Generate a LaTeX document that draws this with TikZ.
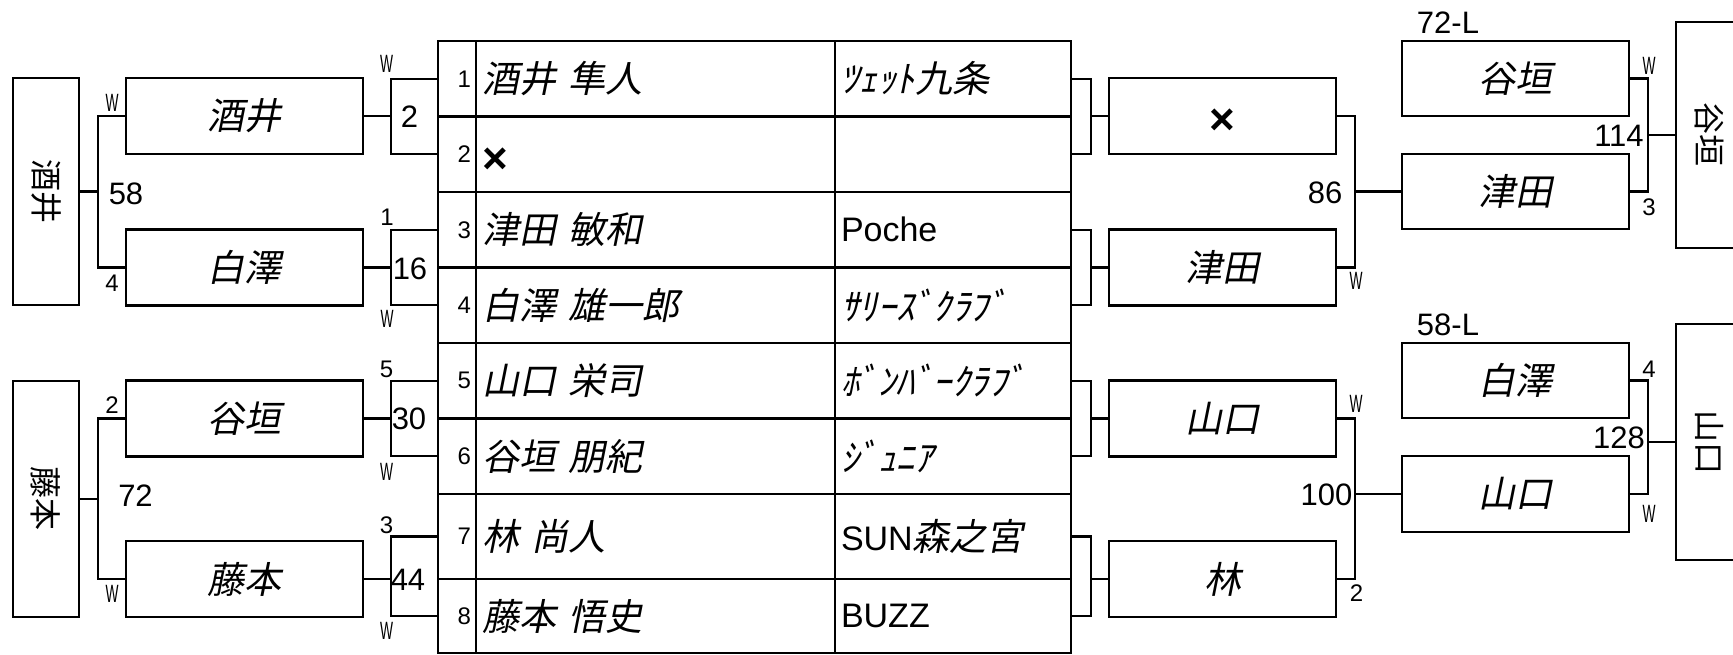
\documentclass[tikz,border=0pt]{standalone}
\usepackage{graphicx}
\usepackage{fontspec}
\setmainfont{Liberation Sans}
\newfontfamily\jpfont{Noto Sans CJK JP}
\newfontfamily\jpslant[FakeSlant=0.2]{Noto Sans CJK JP}
\newfontfamily\slimfont[FakeStretch=0.55]{Liberation Sans}
\newcommand{\latn}[1]{{\rmfamily\fontsize{34}{34}\selectfont #1}}
\newcommand{\batsu}{{\rmfamily\bfseries\fontsize{44}{44}\selectfont\raisebox{0pt}[38pt][0pt]{×}}}

\begin{document}
\begin{tikzpicture}[x=1pt,y=-1pt,line width=2.2pt,
  outbox/.style={draw,minimum width=66pt,inner sep=0pt,font=\jpfont\fontsize{32}{32}\selectfont},
  namebox/.style={draw,minimum width=237pt,minimum height=76pt,inner sep=0pt,font=\jpslant\fontsize{37}{37}\selectfont},
  rbox/.style={namebox,minimum width=227pt},
  numcell/.style={draw,minimum width=38pt,text width=28pt,align=right,inner xsep=5pt,inner ysep=0pt,font=\fontsize{24}{24}\selectfont},
  namecell/.style={draw,text width=347pt,align=left,inner xsep=6pt,inner ysep=0pt,font=\jpslant\fontsize{37}{37}\selectfont},
  clubcell/.style={draw,text width=224pt,align=left,inner xsep=6pt,inner ysep=0pt,font=\jpslant\fontsize{37}{37}\selectfont},
  wlab/.style={font=\slimfont\fontsize{25}{25}\selectfont,inner sep=0pt},
  seedlab/.style={font=\fontsize{24}{24}\selectfont,inner sep=0pt},
  score/.style={font=\fontsize{31}{31}\selectfont,inner sep=0pt}]
  \useasboundingbox (0,0) rectangle (1733,655);
  \clip (0,0) rectangle (1733,655);

  \node[numcell,minimum height=75.5pt] (n1) at (457,78.75) {1};
  \node[namecell,minimum height=75.5pt] (p1) at (655.5,78.75) {酒井 隼人};
  \node[clubcell,minimum height=75.5pt] (c1) at (953,78.75) {ﾂｪｯﾄ九条};
  \node[numcell,minimum height=75.5pt] (n2) at (457,154.25) {2};
  \node[namecell,minimum height=75.5pt] (p2) at (655.5,154.25) {\batsu};
  \node[clubcell,minimum height=75.5pt] (c2) at (953,154.25) {};
  \node[numcell,minimum height=75.5pt] (n3) at (457,229.75) {3};
  \node[namecell,minimum height=75.5pt] (p3) at (655.5,229.75) {津田 敏和};
  \node[clubcell,minimum height=75.5pt] (c3) at (953,229.75) {\latn{Poche}};
  \node[numcell,minimum height=75.5pt] (n4) at (457,305.25) {4};
  \node[namecell,minimum height=75.5pt] (p4) at (655.5,305.25) {白澤 雄一郎};
  \node[clubcell,minimum height=75.5pt] (c4) at (953,305.25) {ｻﾘｰｽﾞｸﾗﾌﾞ};
  \node[numcell,minimum height=75.5pt] (n5) at (457,380.75) {5};
  \node[namecell,minimum height=75.5pt] (p5) at (655.5,380.75) {山口 栄司};
  \node[clubcell,minimum height=75.5pt] (c5) at (953,380.75) {ﾎﾞﾝﾊﾞｰｸﾗﾌﾞ};
  \node[numcell,minimum height=75.5pt] (n6) at (457,456.25) {6};
  \node[namecell,minimum height=75.5pt] (p6) at (655.5,456.25) {谷垣 朋紀};
  \node[clubcell,minimum height=75.5pt] (c6) at (953,456.25) {ｼﾞｭﾆｱ};
  \node[numcell,minimum height=85pt] (n7) at (457,536.5) {7};
  \node[namecell,minimum height=85pt] (p7) at (655.5,536.5) {林 尚人};
  \node[clubcell,minimum height=85pt] (c7) at (953,536.5) {\latn{SUN}森之宮};
  \node[numcell,minimum height=74pt] (n8) at (457,616) {8};
  \node[namecell,minimum height=74pt] (p8) at (655.5,616) {藤本 悟史};
  \node[clubcell,minimum height=74pt] (c8) at (953,616) {\latn{BUZZ}};

  \node[outbox,minimum height=227pt] (sakaiF) at (46,191.6) {\rotatebox{-90}{酒井}};
  \node[outbox,minimum height=236pt] (fujiF) at (46,498.7) {\rotatebox{-90}{藤本}};
  \node[outbox,minimum height=226pt] (tanigF) at (1709,134.9) {\rotatebox{-90}{谷垣}};
  \node[outbox,minimum height=236pt] (yamaF) at (1709,442) {\rotatebox{-90}{山口}};

  \node[namebox] (sakai) at (244.5,116) {酒井};
  \node[namebox] (shira) at (244.5,267.5) {白澤};
  \node[namebox] (tanig) at (244.5,418.5) {谷垣};
  \node[namebox] (fuji) at (244.5,579) {藤本};

  \node[rbox] (r1) at (1222.5,116) {\batsu};
  \node[rbox] (r2) at (1222.5,267.5) {津田};
  \node[rbox] (r3) at (1222.5,418.5) {山口};
  \node[rbox] (r4) at (1222.5,579) {林};

  \node[rbox,minimum height=75.5pt] (f1) at (1515.5,78.5) {谷垣};
  \node[rbox,minimum height=75.5pt] (f2) at (1515.5,191.5) {津田};
  \node[rbox,minimum height=75.5pt] (f3) at (1515.5,380.5) {白澤};
  \node[rbox,minimum height=75.5pt] (f4) at (1515.5,494) {山口};

  \coordinate (la) at (98,191.75);
  \coordinate (lb) at (98,498.75);
  \coordinate (s1) at (391,116.5);
  \coordinate (s2) at (391,267.5);
  \coordinate (s3) at (391,418.5);
  \coordinate (s4) at (391,576.25);
  \coordinate (t1) at (1091,116.5);
  \coordinate (t2) at (1091,267.5);
  \coordinate (t3) at (1091,418.5);
  \coordinate (t4) at (1091,576.25);
  \coordinate (ra) at (1355,191.75);
  \coordinate (rb) at (1355,498.75);
  \coordinate (fa) at (1648,135);
  \coordinate (fb) at (1648,437);

  \draw (sakai.west) -| (la) |- (shira.west);
  \draw (sakaiF.east) -- (sakaiF.east -| la);
  \draw (tanig.west) -| (lb) |- (fuji.west);
  \draw (fujiF.east) -- (fujiF.east -| lb);

  \draw (n1.west) -| (s1) |- (n2.west);
  \draw (sakai.east) -- (sakai.east -| s1);
  \draw (n3.west) -| (s2) |- (n4.west);
  \draw (shira.east) -- (shira.east -| s2);
  \draw (n5.west) -| (s3) |- (n6.west);
  \draw (tanig.east) -- (tanig.east -| s3);
  \draw (n7.west) -| (s4) |- (n8.west);
  \draw (fuji.east) -- (fuji.east -| s4);

  \draw (c1.east) -| (t1) |- (c2.east);
  \draw (r1.west -| t1) -- (r1.west);
  \draw (c3.east) -| (t2) |- (c4.east);
  \draw (r2.west -| t2) -- (r2.west);
  \draw (c5.east) -| (t3) |- (c6.east);
  \draw (r3.west -| t3) -- (r3.west);
  \draw (c7.east) -| (t4) |- (c8.east);
  \draw (r4.west -| t4) -- (r4.west);

  \draw (r1.east) -| (ra) |- (r2.east);
  \draw (f2.west -| ra) -- (f2.west);
  \draw (r3.east) -| (rb) |- (r4.east);
  \draw (f4.west -| rb) -- (f4.west);

  \draw (f1.east) -| (fa) |- (f2.east);
  \draw (tanigF.west -| fa) -- (tanigF.west);
  \draw (f3.east) -| (fb) |- (f4.east);
  \draw (yamaF.west -| fb) -- (yamaF.west);

  \node[wlab] (w1) at (112,102.5) {W};
  \node[seedlab] (k1) at (112,283.5) {4};
  \node[score] (sc1) at (126,194) {58};
  \node[seedlab] (k2) at (112,405) {2};
  \node[wlab] (w2) at (112,593.5) {W};
  \node[score] (sc2) at (135.5,496) {72};
  \node[wlab] (w3) at (386.5,64) {W};
  \node[score] (sc3) at (409.5,116.5) {2};
  \node[seedlab] (k3) at (387,217.5) {1};
  \node[score] (sc4) at (410,269) {16};
  \node[wlab] (w4) at (387,319) {W};
  \node[seedlab] (k4) at (386.5,369.5) {5};
  \node[score] (sc5) at (409,419) {30};
  \node[wlab] (w5) at (386.5,471.5) {W};
  \node[seedlab] (k5) at (386.5,525) {3};
  \node[score] (sc6) at (408,580) {44};
  \node[wlab] (w6) at (386.5,631) {W};
  \node[score] (sc7) at (1325,192.5) {86};
  \node[wlab] (w7) at (1356,281) {W};
  \node[wlab] (w8) at (1356,404) {W};
  \node[score] (sc8) at (1326.5,495) {100};
  \node[seedlab] (k6) at (1356.5,593.5) {2};
  \node[score] (lose1) at (1448,22.5) {72-L};
  \node[score] (lose2) at (1448,325) {58-L};
  \node[wlab] (w9) at (1649,66) {W};
  \node[score] (sc9) at (1619,136) {114};
  \node[seedlab] (k7) at (1649,207.5) {3};
  \node[seedlab] (k8) at (1649,369.5) {4};
  \node[score] (sc10) at (1619,437.5) {128};
  \node[wlab] (w10) at (1649,514) {W};
\end{tikzpicture}
\end{document}
